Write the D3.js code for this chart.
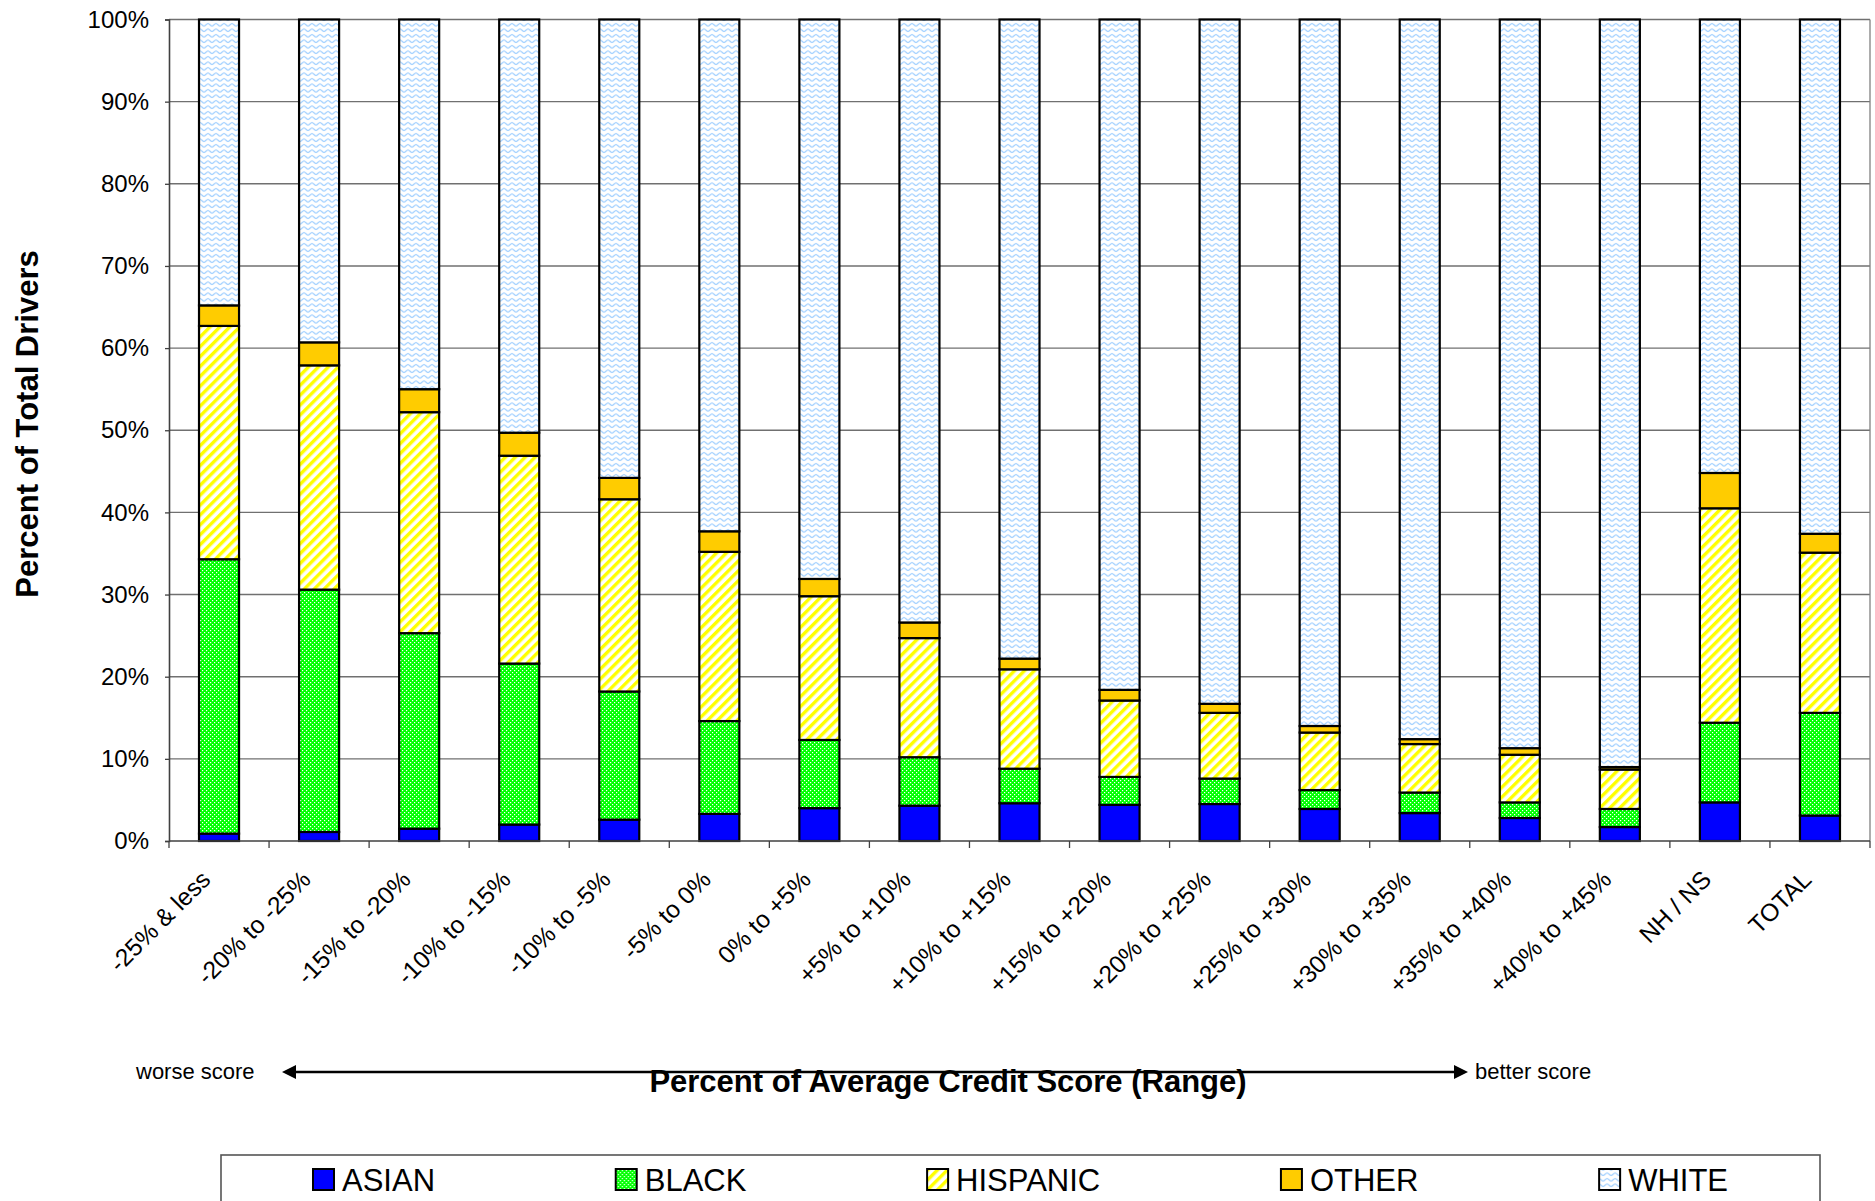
<!DOCTYPE html>
<html>
<head>
<meta charset="utf-8">
<script src="https://cdn.jsdelivr.net/npm/d3@7"></script>
<style>
  html, body { margin: 0; padding: 0; background: #fff; }
  svg { display: block; font-family: "Liberation Sans", Arial, sans-serif; }
</style>
</head>
<body>
<svg id="chart" width="1875" height="1201"></svg>
<script>
// ---------------- DATA ----------------
const categories = ["-25% & less", "-20% to -25%", "-15% to -20%", "-10% to -15%", "-10% to -5%",
  "-5% to 0%", "0% to +5%", "+5% to +10%", "+10% to +15%", "+15% to +20%", "+20% to +25%",
  "+25% to +30%", "+30% to +35%", "+35% to +40%", "+40% to +45%", "NH / NS", "TOTAL"];
const seriesNames = ["ASIAN", "BLACK", "HISPANIC", "OTHER", "WHITE"];
const asian    = [0.9, 1.1, 1.5, 2.0, 2.6, 3.3, 4.0, 4.3, 4.6, 4.4, 4.5, 3.9, 3.4, 2.8, 1.7, 4.7, 3.1];
const black    = [33.4, 29.5, 23.8, 19.6, 15.6, 11.3, 8.3, 5.9, 4.2, 3.4, 3.1, 2.3, 2.5, 1.9, 2.2, 9.7, 12.5];
const hispanic = [28.4, 27.3, 26.9, 25.3, 23.4, 20.6, 17.5, 14.5, 12.1, 9.3, 8.0, 7.0, 5.9, 5.8, 4.8, 26.1, 19.5];
const other    = [2.5, 2.8, 2.8, 2.8, 2.6, 2.5, 2.1, 1.9, 1.3, 1.3, 1.1, 0.8, 0.6, 0.8, 0.3, 4.3, 2.3];
const white    = [34.8, 39.3, 45.0, 50.3, 55.8, 62.3, 68.1, 73.4, 77.8, 81.6, 83.3, 86.0, 87.6, 88.7, 91.0, 55.2, 62.6];
const yTickValues = [0, 10, 20, 30, 40, 50, 60, 70, 80, 90, 100];
const yTitle = "Percent of Total Drivers";
const xTitle = "Percent of Average Credit Score (Range)";
const leftNote = "worse score";
const rightNote = "better score";

// --------------- BUILD ----------------
const seriesArrays = { ASIAN: asian, BLACK: black, HISPANIC: hispanic, OTHER: other, WHITE: white };
const table = categories.map((c, i) => {
  const row = { category: c };
  seriesNames.forEach(s => row[s] = seriesArrays[s][i]);
  return row;
});

const svg = d3.select("#chart");
const plot = { left: 169, right: 1870, top: 19.5, bottom: 841 };
const FONT = '"Liberation Sans", Arial, sans-serif';

// patterns
const defs = svg.append("defs");
// small checkerboard (BLACK)
const pChk = defs.append("pattern").attr("id", "pBlack").attr("patternUnits", "userSpaceOnUse")
  .attr("width", 4).attr("height", 4);
pChk.append("rect").attr("width", 4).attr("height", 4).attr("fill", "#00FF00");
pChk.append("rect").attr("x", 0).attr("y", 0).attr("width", 1.2).attr("height", 1.2).attr("fill", "#fff");
pChk.append("rect").attr("x", 2).attr("y", 2).attr("width", 1.2).attr("height", 1.2).attr("fill", "#fff");
// diagonal stripes (HISPANIC)
const pStr = defs.append("pattern").attr("id", "pHisp").attr("patternUnits", "userSpaceOnUse")
  .attr("width", 7).attr("height", 7).attr("patternTransform", "rotate(45)");
pStr.append("rect").attr("width", 7).attr("height", 7).attr("fill", "#fff");
pStr.append("rect").attr("x", 0).attr("width", 3.4).attr("height", 7).attr("fill", "#FFFF00");
// waves (WHITE)
const pWav = defs.append("pattern").attr("id", "pWhite").attr("patternUnits", "userSpaceOnUse")
  .attr("width", 8).attr("height", 5.5);
pWav.append("rect").attr("width", 8).attr("height", 5.5).attr("fill", "#fff");
pWav.append("path")
  .attr("d", "M0,1.5 C1.3,1.5 2.7,4 4,4 C5.3,4 6.7,1.5 8,1.5")
  .attr("fill", "none").attr("stroke", "#99CCFF").attr("stroke-width", 1.1);

const fills = { ASIAN: "#0000FF", BLACK: "url(#pBlack)", HISPANIC: "url(#pHisp)", OTHER: "#FFCC00", WHITE: "url(#pWhite)" };

const x = d3.scaleBand().domain(categories).range([plot.left, plot.right]).paddingInner(0.6).paddingOuter(0.3);
const y = d3.scaleLinear().domain([0, 100]).range([plot.bottom, plot.top]);

// gridlines
svg.append("g").selectAll("line").data(yTickValues.filter(v => v > 0)).join("line")
  .attr("x1", plot.left).attr("x2", plot.right)
  .attr("y1", d => y(d)).attr("y2", d => y(d))
  .attr("stroke", "#707070").attr("stroke-width", 1.4);
// right border
svg.append("line").attr("x1", plot.right).attr("x2", plot.right).attr("y1", plot.top).attr("y2", plot.bottom)
  .attr("stroke", "#808080").attr("stroke-width", 1.3);

// bars
const stack = d3.stack().keys(seriesNames)(table);
const barG = svg.append("g");
stack.forEach(layer => {
  barG.append("g").selectAll("rect").data(layer).join("rect")
    .attr("x", d => x(d.data.category))
    .attr("width", x.bandwidth())
    .attr("y", d => y(d[1]))
    .attr("height", d => y(d[0]) - y(d[1]))
    .attr("fill", fills[layer.key])
    .attr("stroke", "#000").attr("stroke-width", 2.2);
});

// y axis
const yAxis = d3.axisLeft(y).tickValues(yTickValues).tickFormat(d => d + "%").tickSize(4).tickPadding(16);
const yg = svg.append("g").attr("transform", `translate(${plot.left},0)`).call(yAxis);
yg.select(".domain").attr("stroke", "#404040").attr("stroke-width", 1.6);
yg.selectAll(".tick line").attr("stroke", "#404040").attr("stroke-width", 1.3);
yg.selectAll(".tick text").attr("font-size", 24).attr("font-family", FONT).attr("fill", "#000");

// x axis baseline and boundary ticks
const step = x.step();
const boundaries = d3.range(categories.length + 1).map(k => plot.left + k * step);
svg.append("line").attr("x1", plot.left).attr("x2", plot.right).attr("y1", plot.bottom).attr("y2", plot.bottom)
  .attr("stroke", "#404040").attr("stroke-width", 1.6);
svg.append("g").selectAll("line").data(boundaries).join("line")
  .attr("x1", d => d).attr("x2", d => d).attr("y1", plot.bottom).attr("y2", plot.bottom + 7)
  .attr("stroke", "#404040").attr("stroke-width", 1.3);

// x labels
svg.append("g").selectAll("text").data(categories).join("text")
  .attr("transform", d => `translate(${x(d) + x.bandwidth() / 2 - 7},881) rotate(-45)`)
  .attr("text-anchor", "end")
  .attr("font-size", 24.5).attr("font-family", FONT)
  .text(d => d);

// y title
svg.append("text").attr("transform", "translate(38,424) rotate(-90)")
  .attr("text-anchor", "middle").attr("font-size", 31).attr("font-weight", "bold")
  .attr("font-family", FONT).text(yTitle);

// arrow + notes
const arrowY = 1072;
svg.append("line").attr("x1", 292).attr("x2", 1458).attr("y1", arrowY).attr("y2", arrowY)
  .attr("stroke", "#000").attr("stroke-width", 2.5);
svg.append("path").attr("d", `M282,${arrowY} L296,${arrowY - 7} L296,${arrowY + 7} Z`).attr("fill", "#000");
svg.append("path").attr("d", `M1468,${arrowY} L1454,${arrowY - 7} L1454,${arrowY + 7} Z`).attr("fill", "#000");
svg.append("text").attr("x", 136).attr("y", 1079).attr("font-size", 22).attr("font-family", FONT).text(leftNote);
svg.append("text").attr("x", 1475).attr("y", 1079).attr("font-size", 22).attr("font-family", FONT).text(rightNote);

// x title
svg.append("text").attr("x", 948).attr("y", 1092).attr("text-anchor", "middle")
  .attr("font-size", 31).attr("font-weight", "bold").attr("font-family", FONT).text(xTitle);

// legend
const lg = { left: 221, right: 1820, top: 1155 };
svg.append("rect").attr("x", lg.left).attr("y", lg.top).attr("width", lg.right - lg.left).attr("height", 80)
  .attr("fill", "none").attr("stroke", "#555").attr("stroke-width", 1.6);
const legendG = svg.append("g");
const items = seriesNames.map(s => {
  const g = legendG.append("g");
  g.append("rect").attr("x", 0).attr("y", 1169).attr("width", 21).attr("height", 21)
    .attr("fill", fills[s]).attr("stroke", "#000").attr("stroke-width", 2);
  const t = g.append("text").attr("x", 29).attr("y", 1191).attr("font-size", 31).attr("font-family", FONT).text(s);
  const w = 29 + t.node().getComputedTextLength();
  return { g, w };
});
const totalW = d3.sum(items, d => d.w);
const margin = 92;
const gap = ((lg.right - lg.left) - 2 * margin - totalW) / (items.length - 1);
let cx = lg.left + margin;
items.forEach(it => { it.g.attr("transform", `translate(${cx},0)`); cx += it.w + gap; });
</script>
</body>
</html>
